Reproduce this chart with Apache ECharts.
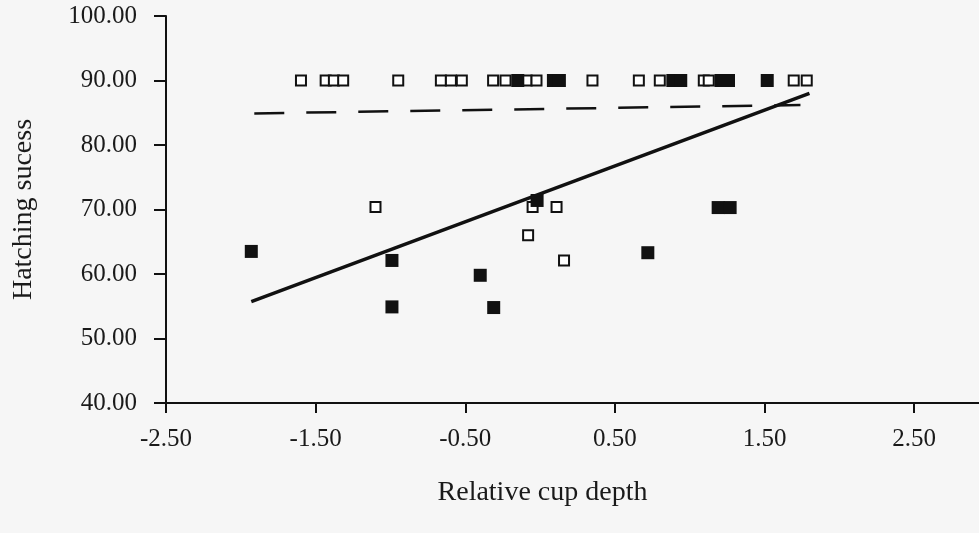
<!DOCTYPE html>
<html>
<head>
<meta charset="utf-8">
<script src="https://cdn.jsdelivr.net/npm/echarts@6/dist/echarts.min.js"></script>
<style>
  html, body { margin: 0; padding: 0; background: #f6f6f6; }
  #chart { width: 979px; height: 533px; }
</style>
</head>
<body>
<div id="chart"></div>
<script>
// Nests with hatching success 90%
const openTop = [-1.598, -1.433, -1.378, -1.316, -0.948, -0.663, -0.596, -0.523, -0.314, -0.231,
                 -0.090, -0.024, 0.350, 0.660, 0.800, 1.094, 1.127, 1.695, 1.782];
const filledTop = [-0.149, 0.089, 0.129, 0.887, 0.940, 1.209, 1.259, 1.518];
const topValue = 90;

// Remaining nests: [relative cup depth, hatching success]
const openLow = [[-1.10, 70.4], [-0.08, 66.0], [-0.05, 70.4], [0.11, 70.4], [0.16, 62.1]];
const filledLow = [[-1.93, 63.5], [-0.99, 62.1], [-0.99, 54.9], [-0.40, 59.8], [-0.31, 54.8],
                   [-0.02, 71.4], [0.72, 63.3], [1.19, 70.3], [1.27, 70.3]];

// Fitted regression lines (end points)
const solidFit = [[-1.93, 55.7], [1.80, 88.0]];
const dashedFit = [[-1.91, 84.9], [1.74, 86.2]];

const xTicks = [-2.5, -1.5, -0.5, 0.5, 1.5, 2.5];

const openData = openTop.map(x => [x, topValue]).concat(openLow);
const filledData = filledTop.map(x => [x, topValue]).concat(filledLow);

const ink = '#111';
const font = 'Liberation Serif';

const chart = echarts.init(document.getElementById('chart'));
chart.setOption({
  backgroundColor: '#f6f6f6',
  animation: false,
  grid: { left: 166, right: -10, top: 16, bottom: 130, containLabel: false, outerBoundsMode: 'none' },
  xAxis: {
    type: 'value', min: -2.5, max: 3.0, interval: 1,
    name: 'Relative cup depth', nameLocation: 'middle', nameGap: 76,
    nameTextStyle: { fontFamily: font, fontSize: 28, color: '#1a1a1a', padding: [0, 70, 0, 0] },
    axisLine: { show: true, onZero: false, lineStyle: { color: ink, width: 2 } },
    axisTick: { show: true, inside: false, length: 10, lineStyle: { color: ink, width: 2 } },
    axisLabel: {
      margin: 24, fontFamily: font, fontSize: 25, color: '#1a1a1a',
      formatter: v => xTicks.some(t => Math.abs(t - v) < 1e-6) ? v.toFixed(2) : ''
    },
    splitLine: { show: false }
  },
  yAxis: {
    type: 'value', min: 40, max: 100, interval: 10,
    name: 'Hatching sucess', nameLocation: 'middle', nameGap: 128, nameRotate: 90,
    nameTextStyle: { fontFamily: font, fontSize: 28, color: '#1a1a1a' },
    axisLine: { show: true, onZero: false, lineStyle: { color: ink, width: 2 } },
    axisTick: { show: true, inside: false, length: 12, lineStyle: { color: ink, width: 2 } },
    axisLabel: {
      margin: 29, fontFamily: font, fontSize: 25, color: '#1a1a1a',
      formatter: v => v.toFixed(2)
    },
    splitLine: { show: false }
  },
  series: [
    {
      type: 'line', data: dashedFit, symbol: 'none', silent: true,
      lineStyle: { color: ink, width: 2.5, type: [30, 22] }
    },
    {
      type: 'line', data: solidFit, symbol: 'none', silent: true,
      lineStyle: { color: ink, width: 3.5 }
    },
    {
      type: 'scatter', data: openData, symbol: 'rect', symbolSize: 10,
      itemStyle: { color: '#ffffff', borderColor: ink, borderWidth: 2, opacity: 1 }
    },
    {
      type: 'scatter', data: filledData, symbol: 'rect', symbolSize: 13,
      itemStyle: { color: ink, opacity: 1 }
    }
  ]
});
</script>
</body>
</html>
